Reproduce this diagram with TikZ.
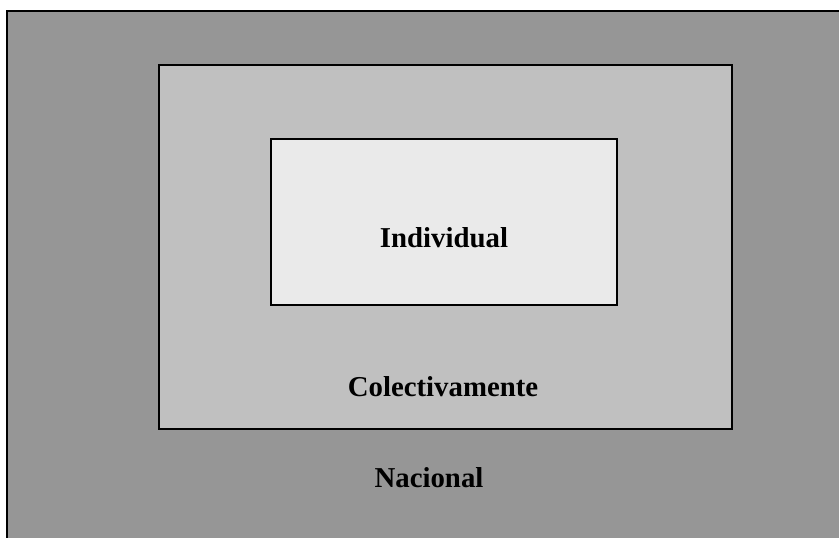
\documentclass[tikz,border=0pt]{standalone}
\usepackage{fontspec}
\setmainfont{Liberation Serif}
\usetikzlibrary{positioning}
\definecolor{nacgray}{HTML}{969696}
\definecolor{colgray}{HTML}{C0C0C0}
\definecolor{indgray}{HTML}{EAEAEA}

\begin{document}
\begin{tikzpicture}[x=1pt, y=-1pt,
        levelbox/.style={rectangle, draw=black, line width=1.8pt, inner sep=0pt, anchor=north west},
        levellabel/.style={font=\fontsize{28.8}{30}\selectfont\bfseries, anchor=base, inner sep=0pt},
]
        \useasboundingbox (0,0) rectangle (839,538);
        \fill[white] (0,0) rectangle (839,538);
        \node[levelbox, fill=nacgray, minimum width=840pt, minimum height=540pt] (nacional) at (6,10) {};
        \node[levelbox, fill=colgray, minimum width=573pt, minimum height=364pt] (colectivo) at (158,64) {};
        \node[levelbox, fill=indgray, minimum width=346pt, minimum height=166pt] (individual) at (270,138) {};

        \node[levellabel] (lindividual) at (444,247) {Individual};
        \node[levellabel] (lcolectivo) at (443,396) {Colectivamente};
        \node[levellabel] (lnacional) at (429,487) {Nacional};
\end{tikzpicture}
\end{document}
